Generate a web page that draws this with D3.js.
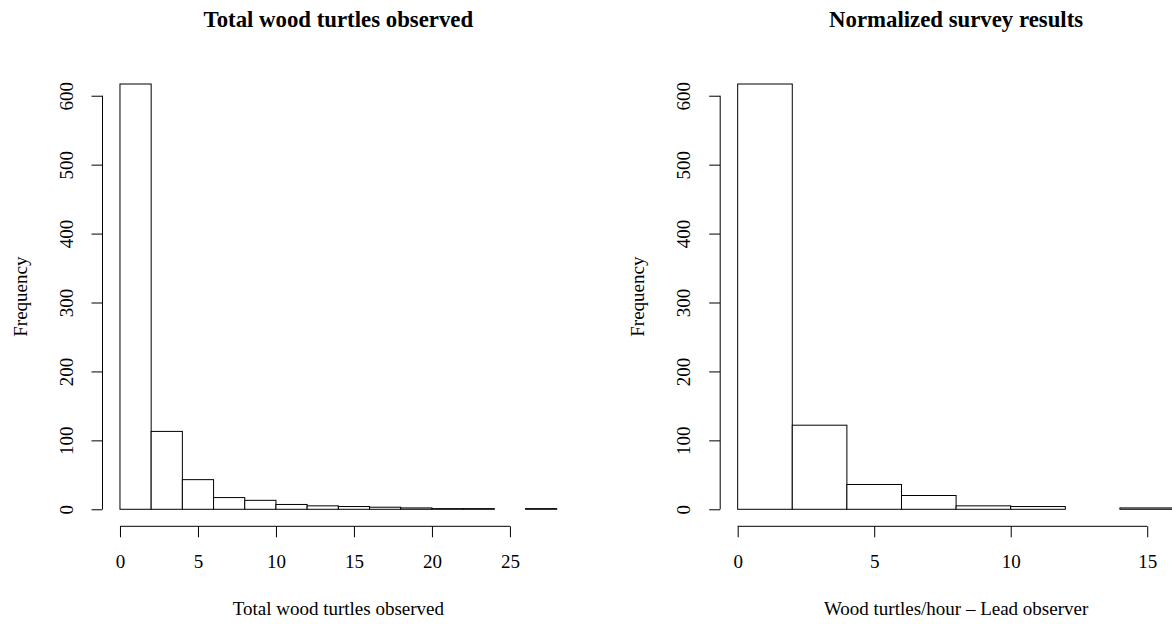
<!DOCTYPE html>
<html>
<head>
<meta charset="utf-8">
<script src="https://cdn.jsdelivr.net/npm/d3@7"></script>
<style>
  html, body { margin: 0; padding: 0; background: #fff; }
  svg { display: block; }
  text { font-family: "Liberation Serif", "Times New Roman", serif; fill: #000; }
</style>
</head>
<body>
<svg id="chart" width="1172" height="624"></svg>
<script>
// Histogram counts, bin width 2
const totalBinStarts = [0, 2, 4, 6, 8, 10, 12, 14, 16, 18, 20, 22, 24, 26];
const totalCounts    = [617, 113, 43, 17, 13, 7, 5, 4, 3, 2, 1, 1, 0, 1];

const rateBinStarts  = [0, 2, 4, 6, 8, 10, 12, 14];
const rateCounts     = [617, 122, 36, 20, 5, 4, 0, 2];

const binWidth = 2;

const totalXTicks = [0, 5, 10, 15, 20, 25];
const rateXTicks  = [0, 5, 10, 15];
const yTicks      = [0, 100, 200, 300, 400, 500, 600];

const panels = [
  {
    title: "Total wood turtles observed",
    xLabel: "Total wood turtles observed",
    starts: totalBinStarts, counts: totalCounts, xTicks: totalXTicks,
    left: 102.5, right: 574.2
  },
  {
    title: "Normalized survey results",
    xLabel: "Wood turtles/hour \u2013 Lead observer",
    starts: rateBinStarts, counts: rateCounts, xTicks: rateXTicks,
    left: 720.2, right: 1192
  }
];

const svg = d3.select("#chart");
const plotTop = 67, plotBottom = 526.3;
const tickLen = 11;
const fontSize = 19;
const titleSize = 22.8;

panels.forEach(p => {
  const xMax = d3.max(p.starts) + binWidth;
  const yMax = d3.max(p.counts);
  // R-style 4% padding around the data range
  const xPad = 0.04 * xMax, yPad = 0.04 * yMax;
  const x = d3.scaleLinear().domain([-xPad, xMax + xPad]).range([p.left, p.right]);
  const y = d3.scaleLinear().domain([-yPad, yMax + yPad]).range([plotBottom, plotTop]);

  const g = svg.append("g");

  // bars
  g.selectAll("rect.bar")
    .data(p.starts.map((s, i) => ({ s, c: p.counts[i] })))
    .join("rect")
    .attr("class", "bar")
    .attr("x", d => x(d.s))
    .attr("y", d => y(d.c))
    .attr("width", d => x(d.s + binWidth) - x(d.s))
    .attr("height", d => y(0) - y(d.c))
    .attr("fill", "#fff")
    .attr("stroke", "#000")
    .attr("stroke-width", 1);

  // x axis (line spans first to last tick)
  const xAxis = g.append("g").attr("transform", `translate(0,${plotBottom})`)
    .call(d3.axisBottom(x).tickValues(p.xTicks).tickSize(tickLen).tickSizeOuter(0).tickFormat(d3.format("d")));
  xAxis.select(".domain").remove();
  xAxis.append("line")
    .attr("x1", x(p.xTicks[0])).attr("x2", x(p.xTicks[p.xTicks.length - 1]))
    .attr("stroke", "#000");
  xAxis.selectAll(".tick line").attr("stroke", "#000");
  xAxis.selectAll(".tick text")
    .attr("y", 41.7).attr("dy", null)
    .attr("font-size", fontSize)
    .attr("font-family", "Liberation Serif")
    .attr("fill", "#000");

  // y axis (line spans first to last tick)
  const yAxis = g.append("g").attr("transform", `translate(${p.left},0)`)
    .call(d3.axisLeft(y).tickValues(yTicks).tickSize(tickLen).tickSizeOuter(0).tickFormat(d3.format("d")));
  yAxis.select(".domain").remove();
  yAxis.append("line")
    .attr("y1", y(yTicks[0])).attr("y2", y(yTicks[yTicks.length - 1]))
    .attr("stroke", "#000");
  yAxis.selectAll(".tick line").attr("stroke", "#000");
  yAxis.selectAll(".tick text")
    .attr("x", null).attr("dy", null)
    .attr("text-anchor", "middle")
    .attr("transform", "translate(-30,0) rotate(-90)")
    .attr("font-size", fontSize)
    .attr("font-family", "Liberation Serif")
    .attr("fill", "#000");

  const cx = (p.left + p.right) / 2;
  const cy = (plotTop + plotBottom) / 2;

  // title
  g.append("text")
    .attr("x", cx).attr("y", 26.7)
    .attr("text-anchor", "middle")
    .attr("font-weight", "bold")
    .attr("font-size", titleSize)
    .text(p.title);

  // x label
  g.append("text")
    .attr("x", cx).attr("y", 615)
    .attr("text-anchor", "middle")
    .attr("font-size", fontSize)
    .text(p.xLabel);

  // y label
  g.append("text")
    .attr("transform", `translate(${p.left - 76},${cy}) rotate(-90)`)
    .attr("text-anchor", "middle")
    .attr("font-size", fontSize)
    .text("Frequency");
});
</script>
</body>
</html>
